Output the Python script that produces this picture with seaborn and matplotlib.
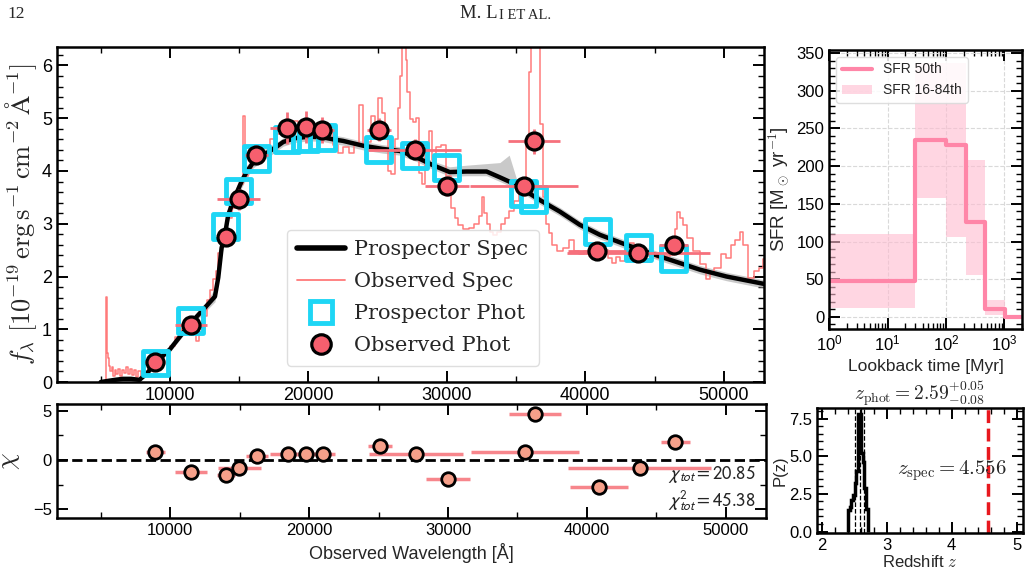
import numpy as np
import matplotlib
matplotlib.use('Agg')
import matplotlib.pyplot as plt
import seaborn as sns
from matplotlib.ticker import MultipleLocator, LogLocator
from matplotlib.lines import Line2D

# --- photometry (observed / model), wavelengths in Angstrom ---
phot_wave = [8930, 11500, 14020, 14980, 16250, 18450, 19800, 21000,
             25080, 27680, 30000, 35560, 36280, 40870, 43820, 46380]
phot_halfwidth = [700, 1150, 620, 1560, 800, 1250, 1150, 860,
                  860, 3370, 1600, 3900, 1870, 2100, 5150, 1070]
obs_phot = [0.38, 1.09, 2.74, 3.46, 4.31, 4.82, 4.83, 4.78,
            4.78, 4.40, 3.71, 3.71, 4.56, 2.49, 2.44, 2.60]
obs_phot_err = [0.03, 0.06, 0.14, 0.19, 0.18, 0.30, 0.30, 0.25,
                0.22, 0.20, 0.18, 0.18, 0.23, 0.12, 0.12, 0.14]
model_phot = [0.36, 1.16, 2.95, 3.62, 4.23, 4.60, 4.62, 4.64,
              4.41, 4.29, 4.07, 3.57, 3.46, 2.85, 2.55, 2.34]
chi = [0.78, -1.19, -1.53, -0.85, 0.44, 0.61, 0.58, 0.58,
       1.42, 0.61, -1.97, 0.78, 4.68, -2.78, -0.85, 1.80]

# --- model spectrum with 16-84 band ---
model_wave = [5000, 6000, 6600, 7200, 7800, 8400, 8920, 10000, 11440, 12530,
              13250, 13490, 13730, 13970, 14210, 14600, 15170, 15530, 16010, 16980,
              17700, 18180, 19000, 20000, 21000, 21790, 22510, 23940, 25330, 26600,
              27800, 28990, 30200, 31420, 32870, 33830, 34500, 35030, 36710, 38160,
              39600, 41050, 42970, 45380, 48270, 50190, 52900]
model_flux = [0.0, 0.04, 0.06, 0.06, 0.04, 0.18, 0.36, 0.62, 1.10, 1.41,
              1.62, 1.98, 2.54, 2.79, 3.17, 3.45, 3.80, 3.98, 4.16, 4.34,
              4.46, 4.55, 4.62, 4.65, 4.64, 4.60, 4.57, 4.48, 4.42, 4.38,
              4.26, 4.11, 3.98, 3.99, 3.99, 3.88, 3.80, 3.73, 3.45, 3.23,
              2.98, 2.79, 2.60, 2.38, 2.13, 2.00, 1.86]
model_up = [0.01, 0.02, 0.02, 0.02, 0.02, 0.03, 0.04, 0.05, 0.06, 0.08,
            0.15, 0.25, 0.25, 0.2, 0.2, 0.15, 0.12, 0.12, 0.1, 0.1,
            0.08, 0.08, 0.08, 0.08, 0.08, 0.08, 0.08, 0.08, 0.08, 0.08,
            0.08, 0.08, 0.1, 0.12, 0.15, 0.28, 0.5, 0.12, 0.08, 0.08,
            0.08, 0.08, 0.08, 0.08, 0.08, 0.08, 0.08]
model_dn = [0.01, 0.02, 0.02, 0.02, 0.02, 0.03, 0.04, 0.05, 0.06, 0.08,
            0.1, 0.1, 0.12, 0.15, 0.15, 0.12, 0.12, 0.12, 0.1, 0.1,
            0.08, 0.08, 0.08, 0.08, 0.08, 0.08, 0.08, 0.08, 0.08, 0.08,
            0.08, 0.08, 0.08, 0.08, 0.08, 0.08, 0.08, 0.08, 0.08, 0.08,
            0.08, 0.08, 0.08, 0.08, 0.08, 0.08, 0.08]

# --- observed spectrum ---
spec_wave = [5350, 5430, 5480, 5550, 5650, 5750, 5850, 5950, 6050, 6150,
             6300, 6450, 6600, 6750, 6900, 7050, 7200, 7350, 7500, 7650,
             7800, 8000, 8300, 8600, 9000, 9400, 9800, 10200, 10600, 11000,
             11400, 11800, 12000, 12200, 12500, 12800, 13000, 13200, 13400, 13600,
             13800, 14000, 14300, 14600, 14900, 15200, 15350, 15450, 15800, 16100,
             16500, 17000, 17500, 18000, 18500, 19000, 19500, 20000, 20500, 21000,
             21500, 22000, 22300, 22700, 23100, 23500, 23840, 24100, 24400, 24680,
             24900, 25160, 25400, 25600, 25880, 26120, 26350, 26550, 26730, 26850,
             27000, 27100, 27210, 27450, 27690, 27860, 28050, 28300, 28600, 28800,
             29000, 29400, 29800, 30100, 30450, 30700, 30940, 31420, 31800, 32140,
             32450, 32620, 32800, 32980, 33200, 33470, 33800, 34070, 34350, 34670,
             35030, 35400, 35630, 35870, 36000, 36150, 36400, 36650, 36830, 37070,
             37250, 37440, 37800, 38160, 38640, 39070, 39360, 39700, 40080, 40400,
             40800, 41200, 41530, 41800, 42010, 42370, 42700, 42970, 43340, 43650,
             43940, 44420, 44900, 45380, 45900, 46340, 46550, 46700, 46950, 47180,
             47540, 48030, 48500, 48860, 49150, 49470, 50070, 50310, 50670, 51000,
             51280, 51520, 52000, 52360, 52720, 52960]
spec_flux = [0.00, 1.61, 0.55, 0.45, 0.30, 0.20, 0.28, 0.12, 0.22, 0.15,
             0.25, 0.12, 0.22, 0.18, 0.28, 0.15, 0.25, 0.14, 0.22, 0.10,
             0.20, 0.12, 0.20, 0.28, 0.37, 0.45, 0.55, 0.68, 0.85, 1.00,
             1.05, 0.95, 0.78, 1.00, 1.25, 1.55, 1.75, 1.95, 2.10, 2.45,
             2.75, 2.90, 3.10, 3.30, 3.50, 3.75, 5.05, 3.90, 4.05, 4.25,
             4.35, 4.45, 4.60, 4.70, 4.85, 4.95, 4.80, 4.95, 4.70, 4.80,
             4.75, 4.50, 4.35, 4.45, 4.35, 4.50, 5.26, 4.50, 4.55, 5.04,
             4.90, 5.38, 5.10, 4.60, 4.00, 3.95, 4.60, 5.20, 5.80, 6.80,
             6.80, 6.10, 5.50, 4.98, 4.92, 5.00, 3.97, 3.76, 4.30, 4.76,
             4.20, 4.45, 4.50, 3.90, 3.30, 3.10, 2.98, 2.90, 2.92, 3.00,
             3.15, 3.50, 3.20, 3.00, 2.85, 2.78, 2.85, 3.00, 3.10, 3.25,
             3.44, 3.60, 3.76, 4.50, 5.87, 7.50, 6.80, 7.50, 4.90, 3.50,
             3.00, 2.83, 2.60, 2.48, 2.54, 2.69, 2.48, 2.42, 2.48, 2.38,
             2.48, 2.40, 2.50, 2.35, 2.25, 2.37, 2.30, 2.48, 2.63, 2.50,
             2.41, 2.28, 2.41, 2.35, 2.38, 2.40, 2.90, 3.23, 3.10, 2.98,
             2.73, 2.48, 2.23, 1.95, 2.05, 2.17, 2.42, 2.35, 2.60, 2.70,
             2.85, 2.60, 1.98, 2.10, 2.17, 2.33]

# --- star formation history ---
sfh_edges = [1, 30, 100, 220, 470, 1030, 2000]
sfr_50 = [48, 234, 228, 126, 10.6, 0]
sfr_16 = [12, 158, 106, 56, 3, 0]
sfr_84 = [110, 337, 337, 208, 22, 0]

# --- photo-z posterior ---
pz_edges = [2.40, 2.425, 2.45, 2.475, 2.50, 2.525, 2.55, 2.575, 2.60, 2.625, 2.65, 2.675, 2.70]
pz_density = [1.4, 1.6, 2.1, 2.4, 3.2, 4.0, 7.8, 7.8, 5.2, 4.6, 2.9, 1.5]
z_pct = [2.51, 2.59, 2.64]
z_spec = 4.556

sns.set_style('ticks')
plt.rcParams['font.family'] = ['Liberation Sans', 'DejaVu Sans']
plt.rcParams['mathtext.fontset'] = 'cm'
plt.rcParams['axes.linewidth'] = 1.8
plt.rcParams['axes.edgecolor'] = 'k'
plt.rcParams['xtick.color'] = 'k'
plt.rcParams['ytick.color'] = 'k'

obs_col = '#F65F6E'
cyan = '#1ED6F5'

fig = plt.figure(figsize=(10.3, 5.7), dpi=100)
ax = fig.add_axes([0.0553, 0.3298, 0.6864, 0.5877])
axr = fig.add_axes([0.0553, 0.0912, 0.6883, 0.2])
axs = fig.add_axes([0.8049, 0.4228, 0.1874, 0.4895])
axz = fig.add_axes([0.7932, 0.0649, 0.2, 0.2193])


def style(a, xmaj=None, xmin=None, ymaj=None, ymin=None, size=12):
    a.tick_params(which='both', direction='in', top=True, right=True, labelsize=size)
    a.tick_params(which='major', length=8, width=1.4)
    a.tick_params(which='minor', length=4, width=1.0)
    if xmaj:
        a.xaxis.set_major_locator(MultipleLocator(xmaj))
    if xmin:
        a.xaxis.set_minor_locator(MultipleLocator(xmin))
    if ymaj:
        a.yaxis.set_major_locator(MultipleLocator(ymaj))
    if ymin:
        a.yaxis.set_minor_locator(MultipleLocator(ymin))


# main SED panel
mw = np.array(model_wave)
mf = np.array(model_flux)
ax.fill_between(mw, mf - np.array(model_dn), mf + np.array(model_up),
                color='0.62', alpha=0.55, lw=0, zorder=1)
sns.lineplot(x=spec_wave, y=spec_flux, ax=ax, color='#FF7A7A', lw=1.1,
             drawstyle='steps-mid', estimator=None, sort=False, zorder=2)
sns.lineplot(x=model_wave, y=model_flux, ax=ax, color='k', lw=3.2,
             estimator=None, sort=False, zorder=3)
sns.scatterplot(x=phot_wave, y=model_phot, ax=ax, marker='s', s=320,
                facecolor='none', edgecolor=cyan, linewidth=3.5, zorder=4)
ax.errorbar(phot_wave, obs_phot, xerr=phot_halfwidth, yerr=obs_phot_err,
            fmt='none', ecolor='#F6707C', elinewidth=2, zorder=5)
sns.scatterplot(x=phot_wave, y=obs_phot, ax=ax, s=150, color=obs_col,
                edgecolor='k', linewidth=2.3, zorder=6)

handles = [Line2D([], [], color='k', lw=4),
           Line2D([], [], color='#FF7A7A', lw=1.3),
           Line2D([], [], marker='s', ls='none', ms=16, mfc='none', mec=cyan, mew=3.5),
           Line2D([], [], marker='o', ls='none', ms=14, mfc=obs_col, mec='k', mew=2.3)]
ax.legend(handles, ['Prospector Spec', 'Observed Spec', 'Prospector Phot', 'Observed Phot'],
          loc='lower left', bbox_to_anchor=(0.31, 0.018),
          prop={'family': 'DejaVu Serif', 'size': 15}, handlelength=2.3,
          labelspacing=0.62, borderpad=0.5, handletextpad=0.45,
          framealpha=0.85, edgecolor='0.85')

ax.set_xlim(1840, 52900)
ax.set_ylim(0, 6.35)
style(ax, 10000, 5000, 1, 0.2, 13)
ax.set_ylabel(r'$f_{\lambda}\ [10^{-19}\,\mathrm{erg\,s^{-1}\,cm^{-2}\,\AA^{-1}}]$',
              fontsize=19, labelpad=2)
ax.set_xlabel('')

# residual panel
axr.axhline(0, ls='--', color='k', lw=2, zorder=1)
axr.errorbar(phot_wave, chi, xerr=phot_halfwidth, fmt='none',
             ecolor='#F7868C', elinewidth=2.5, zorder=2)
sns.scatterplot(x=phot_wave, y=chi, ax=axr, s=95, color='#F6A08A',
                edgecolor='k', linewidth=2.0, zorder=3)
axr.set_xlim(1840, 52900)
axr.set_ylim(-5.9, 5.7)
style(axr, 10000, 5000, 5, 2.5, 12)
axr.set_ylabel(r'$\chi$', fontsize=19, labelpad=8)
axr.set_xlabel('Observed Wavelength [Å]', fontsize=13)
axr.text(0.985, 0.38, r'$\chi_{tot} = 20.85$', transform=axr.transAxes,
         ha='right', va='center', fontsize=13.5, math_fontfamily='stixsans')
axr.text(0.985, 0.15, r'$\chi^2_{tot} = 45.38$', transform=axr.transAxes,
         ha='right', va='center', fontsize=13.5, math_fontfamily='stixsans')

# SFH panel
sfr_col = '#FF86A8'
axs.fill_between(sfh_edges, sfr_16 + sfr_16[-1:], sfr_84 + sfr_84[-1:], step='post',
                 color='#FFBCD0', alpha=0.6, lw=0, label='SFR 16-84th')
sns.lineplot(x=sfh_edges, y=sfr_50 + sfr_50[-1:], ax=axs, drawstyle='steps-post',
             color=sfr_col, lw=3, estimator=None, sort=False, label='SFR 50th')
axs.set_xscale('log')
axs.set_xlim(1, 2000)
axs.set_ylim(-16, 354)
axs.xaxis.set_major_locator(LogLocator(base=10, numticks=10))
axs.xaxis.set_minor_locator(LogLocator(base=10, subs=np.arange(2, 10), numticks=10))
style(axs, None, None, 50, 10, 12)
axs.grid(True, which='major', ls='--', color='0.85', lw=0.8)
axs.set_xlabel('Lookback time [Myr]', fontsize=12.5)
axs.set_ylabel(r'SFR [M$_\odot$ yr$^{-1}$]', fontsize=13.5)
h, l = axs.get_legend_handles_labels()
axs.legend(h[::-1], l[::-1], loc='upper left', fontsize=10, framealpha=0.85,
           edgecolor='0.85', handlelength=2.2)

# P(z) panel
axz.stairs(pz_density, pz_edges, color='k', lw=2.5)
for zp in z_pct:
    axz.axvline(zp, ls='--', color='k', lw=0.9)
axz.axvline(z_spec, ls='--', color='#E8181E', lw=2.5)
axz.set_xlim(1.92, 5.1)
axz.set_ylim(-0.1, 8.2)
style(axz, 1, 0.2, 2.5, 0.5, 12)
axz.set_xlabel(r'Redshift $z$', fontsize=12, labelpad=1)
axz.set_ylabel('P(z)', fontsize=12, labelpad=1)
axz.set_title(r'$z_{\rm phot} = 2.59^{+0.05}_{-0.08}$', fontsize=14, pad=4)
axz.text(0.655, 0.5, r'$z_{\rm spec} = 4.556$', transform=axz.transAxes,
         ha='center', va='center', fontsize=15)

# running header
fig.text(0.007, 0.976, '12', family='Liberation Serif', fontsize=12.5, va='center')
t1 = fig.text(0.447, 0.976, 'M. L', family='Liberation Serif', fontsize=13.5, va='center')
ax.annotate('I ET AL.', xy=(1, 0), xycoords=t1, xytext=(0.5, 0.3), textcoords='offset points',
            va='bottom', family='Liberation Serif', fontsize=10.5, annotation_clip=False)

fig.savefig('out.png', dpi=100)
